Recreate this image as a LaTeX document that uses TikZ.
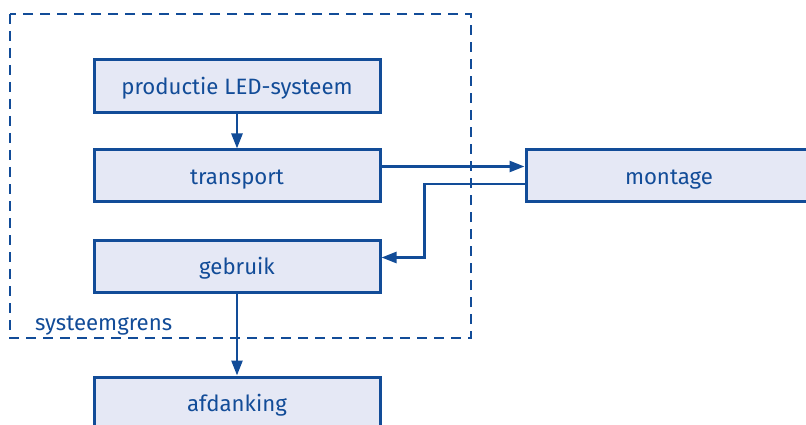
\documentclass[tikz,border=0pt]{standalone}
\usepackage{fontspec}
\setmainfont{Fira Sans}
\usetikzlibrary{arrows.meta}
\definecolor{dblue}{RGB}{18,76,152}
\definecolor{lfill}{RGB}{229,232,245}
\begin{document}
\begin{tikzpicture}[x=1pt,y=-1pt,
  stepbox/.style={draw=dblue,fill=lfill,line width=3pt,minimum width=286pt,inner sep=0pt,text=dblue,text height=17pt,text depth=0pt,font=\fontsize{22.2}{26}\selectfont},
  arr/.style={draw=dblue,line width=2.6pt,-{Triangle[length=15pt,width=11pt]}},
  boundary/.style={draw=dblue,line width=2.8pt,dash pattern=on 10pt off 7pt}]
\clip (0,0) rectangle (806,425);
\fill[white] (0,0) rectangle (806,425);
\draw[boundary] (10,14) rectangle (471,338);
\node[stepbox,minimum height=53pt] (prod) at (237,86.5) {productie LED-systeem};
\node[stepbox,minimum height=51pt] (trans) at (237,175.5) {transport};
\node[stepbox,minimum height=52pt] (gebr) at (237,266) {gebruik};
\node[stepbox,minimum height=52pt] (afd) at (237,403) {afdanking};
\node[stepbox,minimum height=51pt] (mont) at (669,175.5) {montage};
\node[anchor=base west,inner sep=0pt,text=dblue,font=\fontsize{22.2}{26}\selectfont] (lbl) at (35,330) {systeemgrens};
\draw[arr] (prod) -- (trans);
\draw[arr] ([yshift=9pt]trans.east) -- ([yshift=9pt]mont.west);
\draw[arr] ([yshift=-8.5pt]mont.west) -- ++(-100,0) |- ([yshift=8.5pt]gebr.east);
\draw[arr] (gebr) -- (afd);
\end{tikzpicture}
\end{document}
